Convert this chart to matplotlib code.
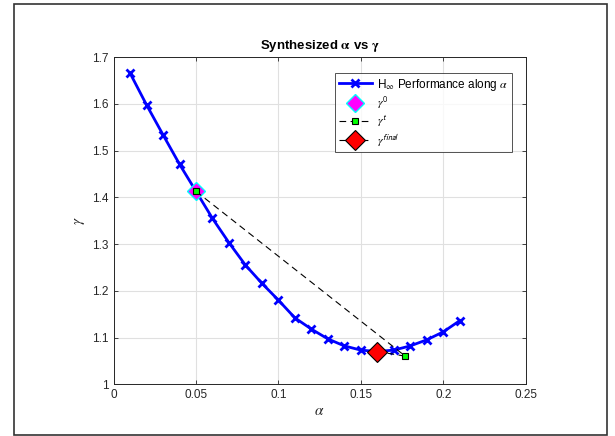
import numpy as np
import matplotlib
matplotlib.use("Agg")
import matplotlib.pyplot as plt
from matplotlib.patches import Rectangle
from matplotlib.ticker import FuncFormatter

plt.rcParams['font.family'] = ['Liberation Sans', 'DejaVu Sans']
plt.rcParams['mathtext.fontset'] = 'stix'

# H-infinity performance sweep
alpha = [0.01, 0.02, 0.03, 0.04, 0.05, 0.06, 0.07, 0.08, 0.09, 0.10, 0.11,
         0.12, 0.13, 0.14, 0.15, 0.16, 0.17, 0.18, 0.19, 0.20, 0.21]
gamma = [1.666, 1.598, 1.534, 1.471, 1.413, 1.355, 1.303, 1.255, 1.216, 1.180, 1.142,
         1.118, 1.097, 1.082, 1.073, 1.070, 1.073, 1.082, 1.095, 1.112, 1.136]

# initial point, iterates and final point
alpha0, gamma0 = 0.05, 1.413
alpha_t = [0.05, 0.177, 0.16]
gamma_t = [1.413, 1.060, 1.070]
alpha_final, gamma_final = 0.16, 1.070

xticks = [0, 0.05, 0.1, 0.15, 0.2, 0.25]
yticks = [1, 1.1, 1.2, 1.3, 1.4, 1.5, 1.6, 1.7]

fig = plt.figure(figsize=(6.15, 4.36), dpi=100)
ax = fig.add_axes([0.1847, 0.1188, 0.6700, 0.7498])

ax.plot(alpha, gamma, color='#0000ff', lw=2, marker='x', ms=5.5, mew=2,
        label=r'H$_\infty$ Performance along $\alpha$', zorder=3)
ax.plot(alpha0, gamma0, linestyle='none', marker='D', ms=9, mfc='#ff00ff',
        mec='#00ffff', mew=1, label=r'$\gamma^{\mathsf{0}}$', zorder=4)
ax.plot(alpha_t, gamma_t, color='k', ls=(0, (6, 4)), lw=0.8, marker='s', ms=5,
        mfc='#00ff00', mec='k', mew=0.8, label=r'$\gamma^{\mathsf{t}}$', zorder=5)
ax.plot(alpha_final, gamma_final, color='k', ls=(0, (6, 4)), lw=0.8, marker='D',
        ms=10, mfc='#ff0000', mec='k', mew=0.8, label=r'$\gamma^{\mathsf{final}}$', zorder=6)

ax.set_xlim(0, 0.25)
ax.set_ylim(1, 1.7)
ax.set_xticks(xticks)
ax.set_yticks(yticks)
fmt = FuncFormatter(lambda v, p: '%g' % round(v, 3))
ax.xaxis.set_major_formatter(fmt)
ax.yaxis.set_major_formatter(fmt)
ax.tick_params(direction='in', length=3, width=0.6, colors='#262626',
               labelsize=8.5, top=True, right=True, labelcolor='#262626')
for s in ax.spines.values():
    s.set_color('#262626')
    s.set_linewidth(0.7)
ax.grid(True, color='#e0e0e0', lw=0.8)
ax.set_axisbelow(True)

ax.set_xlabel(r'$\alpha$', fontsize=11, color='#262626', labelpad=2)
ax.set_ylabel(r'$\gamma$', fontsize=11, color='#262626', labelpad=4)
ax.set_title(r'Synthesized $\mathbf{\alpha}$ vs $\mathbf{\gamma}$', fontsize=9.5,
             fontweight='bold', pad=6)

leg = ax.legend(loc='upper right', bbox_to_anchor=(0.967, 0.952), borderaxespad=0,
                fontsize=8.5, frameon=True, fancybox=False, edgecolor='#262626',
                handlelength=2.8, borderpad=0.3, labelspacing=0.22, handletextpad=0.5)
leg.get_frame().set_linewidth(0.7)

fig.patches.append(Rectangle((14 / 615, 1 / 436), 593 / 615, 431 / 436,
                             transform=fig.transFigure, fill=False,
                             edgecolor='#333333', lw=1.2))

fig.savefig('out.png', dpi=100)
